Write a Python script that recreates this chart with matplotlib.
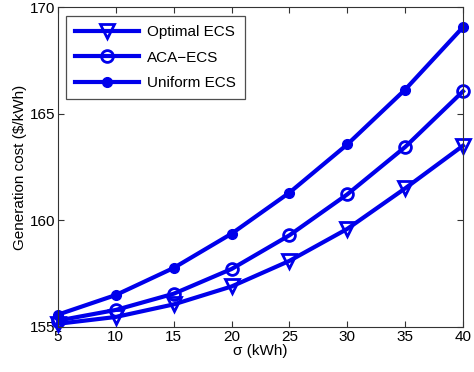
import matplotlib.pyplot as plt

plt.rcParams['font.family'] = ['Liberation Sans', 'DejaVu Sans']

sigma = [5, 10, 15, 20, 25, 30, 35, 40]
optimalEcs = [155.15, 155.47, 156.06, 156.9, 158.1, 159.6, 161.5, 163.5]
acaEcs = [155.3, 155.8, 156.56, 157.72, 159.3, 161.22, 163.44, 166.05]
uniformEcs = [155.58, 156.5, 157.77, 159.375, 161.3, 163.56, 166.13, 169.06]

fig = plt.figure(figsize=(4.74, 3.72), dpi=100)
ax = fig.add_axes([0.1224, 0.121, 0.8544, 0.86])

col = (0.0, 0.0, 0.92)
ax.plot(sigma, optimalEcs, color=col, marker='v', mfc='none', mew=2,
        markersize=10, linewidth=3, label='Optimal ECS', clip_on=False)
ax.plot(sigma, acaEcs, color=col, marker='o', mfc='none', mew=2,
        markersize=8.5, linewidth=3, label='ACA\u2212ECS', clip_on=False)
ax.plot(sigma, uniformEcs, color=col, marker='o', markersize=7,
        linewidth=3, label='Uniform ECS', clip_on=False)

for s in ax.spines.values():
    s.set_color('#333333')

ax.set_xlim(5, 40)
ax.set_ylim(155, 170)
ax.set_xticks(sigma)
ax.set_yticks([155, 160, 165, 170])
ax.tick_params(direction='in', top=True, right=True, labelsize=11, length=4,
               pad=2, color='#333333')
ax.set_xlabel('\u03c3 (kWh)', fontsize=11, labelpad=0)
ax.set_ylabel(r'Generation cost (\$/kWh)', fontsize=11, labelpad=2)

leg = ax.legend(loc='upper left', fontsize=11, frameon=True, fancybox=False,
                edgecolor='#222222', handlelength=4.2, borderpad=0.6,
                labelspacing=0.75, handletextpad=0.5, borderaxespad=0,
                bbox_to_anchor=(0.02, 0.972))
leg.get_frame().set_linewidth(0.9)

plt.savefig('out.png', dpi=100)
